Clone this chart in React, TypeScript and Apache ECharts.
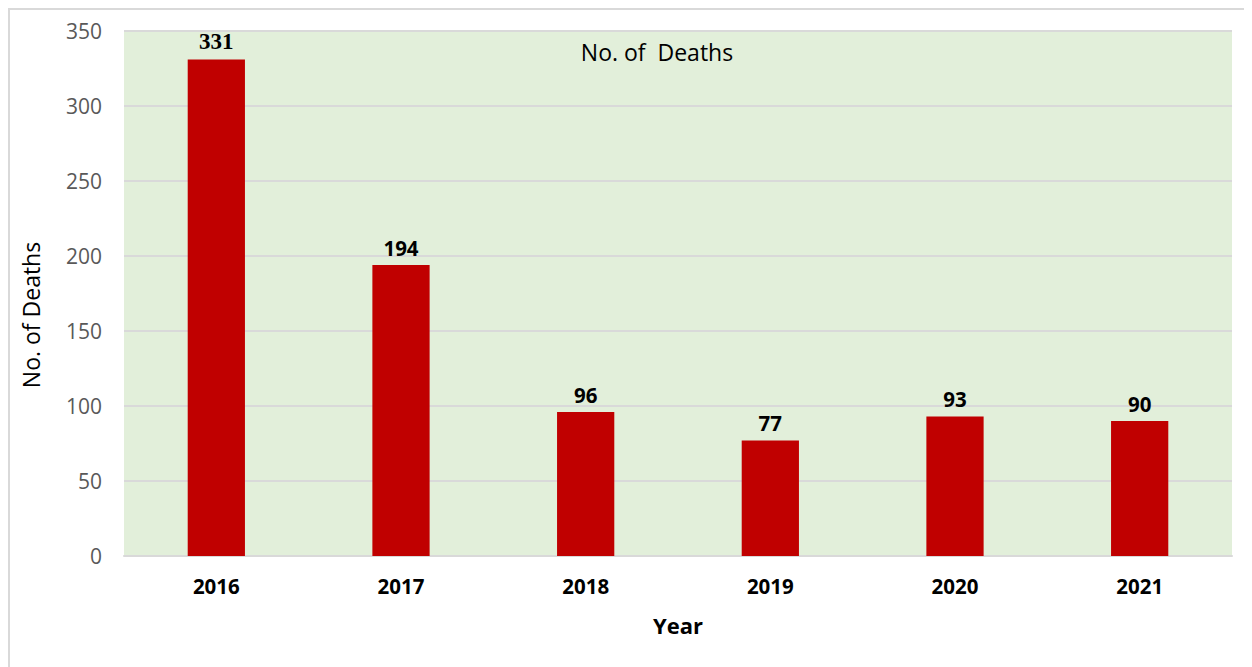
import React, { useEffect, useRef } from "react";
import * as echarts from "echarts";

const years = ["2016", "2017", "2018", "2019", "2020", "2021"];
const deaths = [331, 194, 96, 77, 93, 90];
const yTicks = { min: 0, max: 350, interval: 50 };

export default function App() {
  const ref = useRef<HTMLDivElement>(null);
  useEffect(() => {
    const chart = echarts.init(ref.current!, null, { renderer: "svg" });
    const font = "'Open Sans', 'Noto Sans', sans-serif";
    chart.setOption({
      animation: false,
      textStyle: { fontFamily: font },
      grid: { left: 116, top: 23, right: 20, bottom: 111, show: true, backgroundColor: "#E2EFDA", borderWidth: 0 },
      graphic: [
        { type: "rect", shape: { x: 1, y: 1, width: 1260, height: 700 }, style: { fill: "none", stroke: "#d9d9d9", lineWidth: 2 }, silent: true },
        { type: "text", x: 649, y: 44, style: { text: "No. of  Deaths", font: `23px ${font}`, fill: "#000", textAlign: "center", textVerticalAlign: "middle" } },
        { type: "text", x: 23, y: 307, rotation: Math.PI / 2, style: { text: "No. of Deaths", font: `23px ${font}`, fill: "#000", textAlign: "center", textVerticalAlign: "middle" } },
      ],
      xAxis: {
        type: "category",
        data: years,
        name: "Year",
        nameLocation: "middle",
        nameGap: 58,
        nameTextStyle: { fontSize: 22, fontWeight: "bold", color: "#000", fontFamily: font },
        axisLine: { lineStyle: { color: "#d9d9d9", width: 2 } },
        axisTick: { show: false },
        axisLabel: { fontSize: 20.5, fontWeight: "bold", color: "#000", margin: 19, fontFamily: font },
      },
      yAxis: {
        type: "value",
        min: yTicks.min,
        max: yTicks.max,
        interval: yTicks.interval,
        axisLine: { show: false },
        axisTick: { show: false },
        splitLine: { lineStyle: { color: "#d9d9d9", width: 2 } },
        axisLabel: { fontSize: 21, color: "#595959", margin: 22, fontFamily: font },
      },
      series: [
        {
          type: "bar",
          data: deaths.map((v, i) =>
            i === 0
              ? { value: v, label: { fontFamily: "'Liberation Serif', 'Times New Roman', serif", fontSize: 23 } }
              : v
          ),
          barWidth: "31%",
          itemStyle: { color: "#C00000" },
          label: { show: true, position: "top", fontSize: 20.5, fontWeight: "bold", color: "#000", distance: 7, fontFamily: font },
        },
      ],
    });
    return () => chart.dispose();
  }, []);
  return <div ref={ref} style={{ width: 1244, height: 659 }} />;
}
